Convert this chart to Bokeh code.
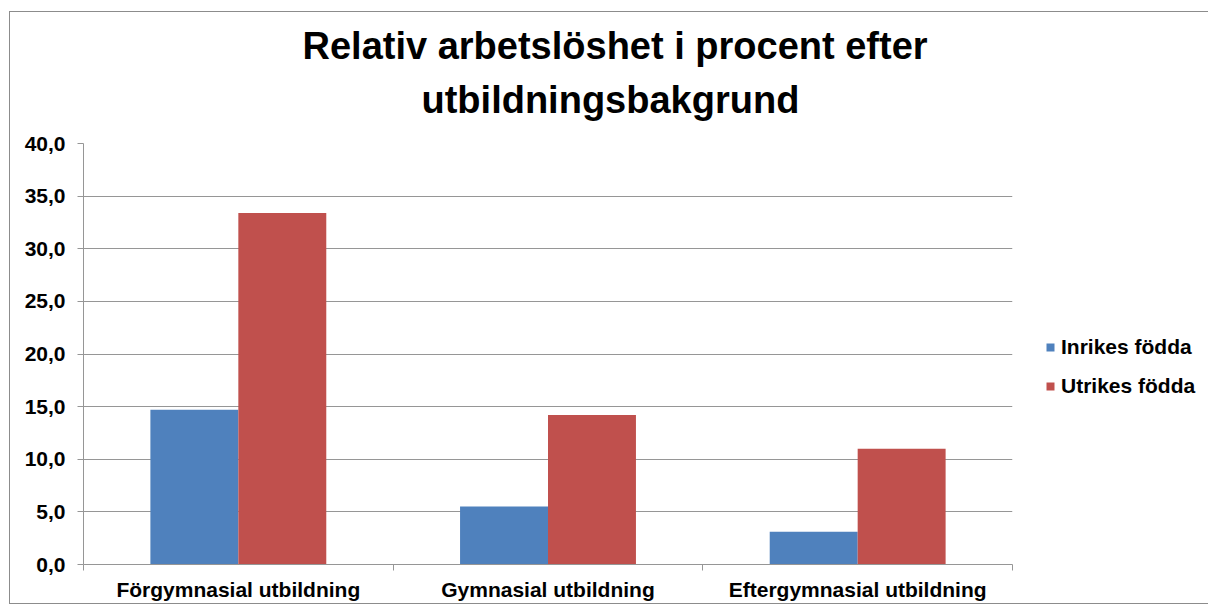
from bokeh.plotting import figure
from bokeh.models import Range1d, FixedTicker, Legend, LegendItem, Title
from bokeh.embed import file_html
from bokeh.resources import INLINE

# ---- data ----
categories = ["Förgymnasial utbildning", "Gymnasial utbildning", "Eftergymnasial utbildning"]
series_names = ["Inrikes födda", "Utrikes födda"]
inrikes = [14.7, 5.5, 3.1]
utrikes = [33.4, 14.2, 11.0]
y_ticks = [0, 5, 10, 15, 20, 25, 30, 35, 40]
y_tick_labels = ["0,0", "5,0", "10,0", "15,0", "20,0", "25,0", "30,0", "35,0", "40,0"]
title_lines = ["Relativ arbetslöshet i procent efter", "utbildningsbakgrund"]

# ---- styles ----
FONT = "Liberation Sans"
BLUE = "#4F81BD"
RED = "#C0504D"
GRAY = "#969696"
BAR_W = 0.284

n = len(categories)
centers = [i + 0.5 for i in range(n)]
bounds = [i for i in range(n + 1)]
x_in = [c - BAR_W / 2 for c in centers]
x_ut = [c + BAR_W / 2 for c in centers]

p = figure(frame_width=929, frame_height=421,
           x_range=Range1d(0, n), y_range=Range1d(y_ticks[0], y_ticks[-1]),
           output_backend="svg", toolbar_location=None,
           min_border_left=73, min_border_top=131, min_border_right=186,
           min_border_bottom=30)
p.outline_line_color = None
p.background_fill_color = "white"
p.border_fill_color = "white"

r1 = p.vbar(x=x_in, top=inrikes, width=BAR_W, fill_color=BLUE, line_color=None)
r2 = p.vbar(x=x_ut, top=utrikes, width=BAR_W, fill_color=RED, line_color=None)

# y axis
ya = p.yaxis[0]
ya.ticker = FixedTicker(ticks=y_ticks)
ya.major_label_overrides = {t: l for t, l in zip(y_ticks, y_tick_labels)}
ya.major_tick_out = 6
ya.major_tick_in = 0
ya.minor_tick_line_color = None
ya.major_label_standoff = 12
ya.axis_line_color = GRAY
ya.major_tick_line_color = GRAY
ya.major_label_text_font = FONT
ya.major_label_text_font_style = "bold"
ya.major_label_text_font_size = "21px"
ya.major_label_text_color = "black"

# x axis
xa = p.xaxis[0]
xa.ticker = FixedTicker(ticks=centers, minor_ticks=bounds)
xa.major_label_overrides = {c: l for c, l in zip(centers, categories)}
xa.major_tick_line_color = None
xa.major_tick_out = 0
xa.major_tick_in = 0
xa.minor_tick_out = 6
xa.minor_tick_in = 0
xa.minor_tick_line_color = GRAY
xa.axis_line_color = GRAY
xa.major_label_standoff = 7
xa.major_label_text_font = FONT
xa.major_label_text_font_style = "bold"
xa.major_label_text_font_size = "21px"
xa.major_label_text_color = "black"

p.xgrid.grid_line_color = None
p.ygrid.grid_line_color = GRAY
p.ygrid.grid_line_width = 1

# title: two lines, closest to the frame added first (left-aligned with offsets
# so that both lines are centred over the whole chart)
title_offsets = [219, 338]
title_standoffs = [-26, 46]
for line, off, so in reversed(list(zip(title_lines, title_offsets, title_standoffs))):
    p.add_layout(Title(text=line, align="left", offset=off, standoff=so,
                       text_font=FONT, text_font_style="bold",
                       text_font_size="38px", text_color="black"), "above")

legend = Legend(items=[LegendItem(label=series_names[0], renderers=[r1]),
                       LegendItem(label=series_names[1], renderers=[r2])],
                location=(33, 166), margin=0, padding=3,
                glyph_width=10, glyph_height=10, label_standoff=6,
                label_height=21, spacing=15,
                label_text_font=FONT, label_text_font_style="bold",
                label_text_font_size="21px", label_text_color="black",
                border_line_color=None, background_fill_alpha=0)
p.add_layout(legend, "right")

p.styles = {"border": "1px solid #8c8c8c", "margin-left": "9px", "margin-top": "11px"}

open("out.html", "w").write(file_html(p, INLINE))
